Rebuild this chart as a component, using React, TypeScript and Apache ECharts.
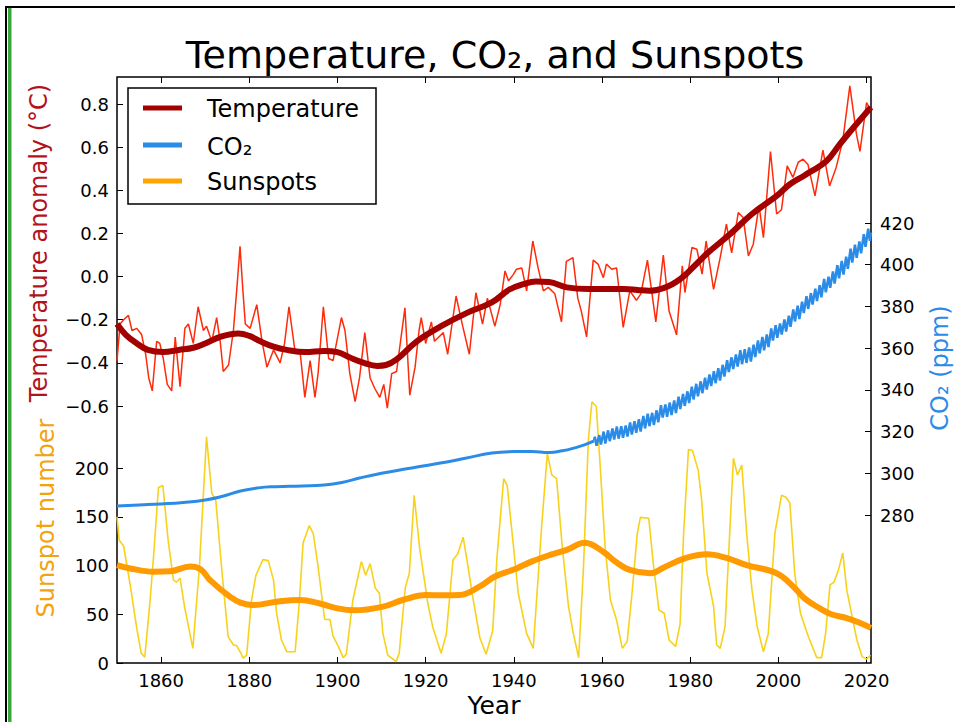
import React, { useEffect, useRef } from 'react';
import * as echarts from 'echarts';

const FONT = '"DejaVu Sans", "Liberation Sans", sans-serif';

const yearTicks = [1860, 1880, 1900, 1920, 1940, 1960, 1980, 2000, 2020];

// Temperature anomaly (thin, noisy) [year, °C]
const tempThin: [number, number][] = [
  [1850.0, -0.39], [1850.7, -0.22], [1851.5, -0.2], [1852.6, -0.18], [1853.4, -0.25], [1854.5, -0.24],
  [1855.6, -0.27], [1856.5, -0.36], [1857.2, -0.47], [1858.0, -0.53], [1859.0, -0.3], [1859.7, -0.31],
  [1860.5, -0.38], [1861.4, -0.5], [1862.4, -0.53], [1863.2, -0.28], [1864.3, -0.51], [1865.4, -0.24],
  [1866.2, -0.22], [1867.3, -0.31], [1868.4, -0.14], [1869.6, -0.25], [1870.3, -0.23], [1871.5, -0.3],
  [1872.6, -0.19], [1873.4, -0.3], [1874.1, -0.44], [1875.3, -0.41], [1876.4, -0.25], [1877.2, -0.05],
  [1877.9, 0.14], [1878.5, -0.05], [1879.1, -0.22], [1880.2, -0.24], [1881.7, -0.13], [1882.9, -0.3],
  [1884.0, -0.42], [1885.5, -0.34], [1887.0, -0.4], [1888.0, -0.31], [1889.0, -0.14], [1890.4, -0.35],
  [1891.5, -0.345], [1892.6, -0.56], [1893.8, -0.39], [1894.9, -0.56], [1895.6, -0.45], [1896.8, -0.14],
  [1898.0, -0.38], [1899.0, -0.39], [1900.9, -0.19], [1901.7, -0.25], [1902.8, -0.45], [1904.0, -0.58],
  [1905.0, -0.47], [1906.2, -0.26], [1907.4, -0.47], [1908.5, -0.52], [1909.6, -0.56], [1910.5, -0.5],
  [1911.3, -0.61], [1912.3, -0.45], [1913.4, -0.44], [1914.3, -0.3], [1915.3, -0.145], [1916.4, -0.55],
  [1917.6, -0.42], [1918.5, -0.25], [1919.0, -0.19], [1920.0, -0.31], [1921.3, -0.21], [1922.0, -0.3],
  [1923.0, -0.28], [1924.0, -0.26], [1925.0, -0.36], [1926.9, -0.09], [1928.4, -0.23], [1929.9, -0.36],
  [1931.4, -0.075], [1932.9, -0.22], [1934.0, -0.1], [1935.7, -0.23], [1936.9, -0.13], [1938.0, 0.026],
  [1938.8, -0.02], [1939.9, 0.01], [1940.6, 0.034], [1941.8, 0.04], [1942.9, -0.066], [1944.3, 0.165],
  [1945.5, 0.04], [1946.7, -0.066], [1947.8, -0.05], [1949.3, -0.08], [1950.8, -0.21], [1951.9, 0.07],
  [1953.4, 0.088], [1954.5, -0.1], [1955.3, -0.16], [1956.5, -0.28], [1958.0, 0.076], [1959.1, 0.058],
  [1960.3, -0.005], [1961.0, 0.058], [1962.2, 0.034], [1963.3, 0.04], [1964.8, -0.236], [1966.3, -0.066],
  [1967.8, -0.11], [1968.8, -0.08], [1970.3, 0.076], [1972.2, -0.21], [1973.9, 0.1], [1975.2, -0.16],
  [1976.9, -0.27], [1978.2, 0.05], [1978.8, -0.074], [1980.4, 0.135], [1981.5, 0.127], [1982.7, 0.011],
  [1983.6, 0.165], [1985.3, -0.059], [1986.8, 0.088], [1988.2, 0.243], [1989.4, 0.11], [1990.9, 0.297],
  [1992.0, 0.274], [1993.2, 0.096], [1994.3, 0.15], [1995.6, 0.33], [1996.6, 0.18], [1998.2, 0.58],
  [1999.6, 0.29], [2000.7, 0.31], [2002.0, 0.513], [2003.3, 0.46], [2004.5, 0.53], [2005.6, 0.544],
  [2006.7, 0.52], [2008.3, 0.374], [2010.1, 0.586], [2011.6, 0.42], [2013.1, 0.506], [2014.6, 0.63],
  [2016.2, 0.884], [2017.7, 0.66], [2018.5, 0.58], [2020.0, 0.807], [2020.9, 0.77],
];

// Temperature, smoothed [year, °C]
const tempSmooth: [number, number][] = [
  [1850, -0.22], [1852, -0.27], [1854.5, -0.31], [1857, -0.34], [1860.5, -0.35], [1864, -0.34],
  [1867.3, -0.33], [1870, -0.31], [1873.4, -0.28], [1877.5, -0.264], [1880, -0.275], [1882.5, -0.3],
  [1885.5, -0.325], [1888.5, -0.34], [1892.7, -0.35], [1897, -0.345], [1900, -0.35], [1902.8, -0.375],
  [1906, -0.4], [1909, -0.414], [1911, -0.41], [1913.5, -0.383], [1918, -0.3], [1923.5, -0.23],
  [1929.5, -0.167], [1935, -0.12], [1939, -0.06], [1942.2, -0.035], [1945, -0.023], [1948, -0.025],
  [1952, -0.05], [1957, -0.058], [1961, -0.058], [1965, -0.058], [1968, -0.062], [1970.6, -0.066],
  [1974.4, -0.05], [1977.7, -0.012], [1980, 0.03], [1984, 0.11], [1989, 0.196], [1994, 0.29],
  [1999.6, 0.374], [2002.6, 0.428], [2006, 0.47], [2010.9, 0.536], [2013.9, 0.613], [2017, 0.69],
  [2021, 0.785],
];

// CO2 before Mauna Loa (ice core) [year, ppm]
const co2IceCore: [number, number][] = [
  [1850, 284.3], [1855, 284.8], [1860, 285.3], [1865, 286.0], [1870, 287.2], [1874, 289.0],
  [1878, 291.5], [1882, 293.0], [1886, 293.6], [1892, 293.9], [1897, 294.4], [1901, 295.6],
  [1905, 297.7], [1910, 300.0], [1915, 301.9], [1923, 304.8], [1929, 307.2], [1935, 309.7], [1940, 310.4],
  [1944, 310.5], [1948, 310.0], [1951, 310.8], [1954, 312.3], [1956, 313.6], [1958.2, 315.5],
];

// CO2 Mauna Loa, seasonal highs and lows [year, ppm]
const co2MaunaLoa: [number, number][] = [
  [1958.2, 315.7], [1958.37, 317.5], [1958.75, 313.2], [1959.37, 318.3], [1959.75, 313.8],
  [1960.37, 320.0], [1960.75, 314.3], [1961.37, 320.6], [1961.75, 315.4], [1962.37, 321.5], [1962.75, 316.2],
  [1963.37, 322.4], [1963.75, 316.6], [1964.37, 322.6], [1964.75, 317.0], [1965.37, 322.9], [1965.75, 317.6],
  [1966.37, 324.4], [1966.75, 318.6], [1967.37, 325.0], [1967.75, 319.4], [1968.37, 325.9], [1968.75, 320.0],
  [1969.37, 327.5], [1969.75, 321.5], [1970.37, 328.6], [1970.75, 322.6], [1971.37, 329.0], [1971.75, 323.2],
  [1972.37, 330.2], [1972.75, 324.4], [1973.37, 332.6], [1973.75, 326.7], [1974.37, 333.0], [1974.75, 327.1],
  [1975.37, 333.9], [1975.75, 327.9], [1976.37, 334.9], [1976.75, 328.9], [1977.37, 336.7], [1977.75, 330.8],
  [1978.37, 338.0], [1978.75, 332.3], [1979.37, 339.3], [1979.75, 333.7], [1980.37, 341.5], [1980.75, 335.4],
  [1981.37, 342.9], [1981.75, 336.9], [1982.37, 344.1], [1982.75, 338.4], [1983.37, 345.8], [1983.75, 340.1],
  [1984.37, 347.4], [1984.75, 341.8], [1985.37, 348.9], [1985.75, 343.2], [1986.37, 350.4], [1986.75, 344.5],
  [1987.37, 352.0], [1987.75, 346.4], [1988.37, 354.2], [1988.75, 348.5], [1989.37, 355.6], [1989.75, 350.0],
  [1990.37, 357.0], [1990.75, 351.2], [1991.37, 359.0], [1991.75, 352.3], [1992.37, 359.5], [1992.75, 352.9],
  [1993.37, 360.3], [1993.75, 353.6], [1994.37, 361.7], [1994.75, 355.7], [1995.37, 363.7], [1995.75, 357.5],
  [1996.37, 365.4], [1996.75, 359.0], [1997.37, 366.6], [1997.75, 360.5], [1998.37, 369.5], [1998.75, 363.6],
  [1999.37, 371.0], [1999.75, 365.0], [2000.37, 371.8], [2000.75, 366.5], [2001.37, 373.8], [2001.75, 368.0],
  [2002.37, 375.6], [2002.75, 370.2], [2003.37, 378.6], [2003.75, 372.8], [2004.37, 380.4], [2004.75, 373.9],
  [2005.37, 382.3], [2005.75, 376.8], [2006.37, 384.9], [2006.75, 378.8], [2007.37, 386.4], [2007.75, 380.9],
  [2008.37, 388.5], [2008.75, 382.6], [2009.37, 390.2], [2009.75, 384.4], [2010.37, 393.2], [2010.75, 386.8],
  [2011.37, 394.3], [2011.75, 388.9], [2012.37, 396.8], [2012.75, 391.0], [2013.37, 399.8], [2013.75, 393.5],
  [2014.37, 401.8], [2014.75, 395.3], [2015.37, 403.9], [2015.75, 398.0], [2016.37, 407.7], [2016.75, 401.0],
  [2017.37, 409.6], [2017.75, 403.3], [2018.37, 411.2], [2018.75, 405.5], [2019.37, 414.7], [2019.75, 408.6],
  [2020.37, 417.3], [2020.75, 411.5], [2021.0, 415.5],
];

// Sunspot number (thin) [year, count]
const sunThin: [number, number][] = [
  [1850.0, 150], [1850.5, 126], [1851.5, 120], [1853.0, 80], [1854.5, 35], [1855.5, 10], [1856.3, 6],
  [1857.5, 64], [1858.3, 110], [1859.4, 180], [1860.4, 182], [1861.6, 126], [1862.8, 85], [1863.5, 83],
  [1864.3, 87], [1865.3, 58], [1867.2, 15], [1868.7, 99], [1870.3, 232], [1871.5, 174], [1872.4, 167],
  [1873.7, 99], [1875.2, 27], [1876.4, 18.5], [1877.1, 18], [1878.1, 10], [1878.6, 5], [1879.4, 8],
  [1880.5, 64], [1881.5, 90], [1883.1, 106], [1884.3, 105], [1885.5, 85], [1886.2, 51], [1887.3, 23.6],
  [1888.5, 11.6], [1890.4, 11.6], [1891.3, 60], [1892.2, 123], [1893.6, 141], [1894.5, 133], [1895.6, 99],
  [1897.1, 44.6], [1898.3, 44.6], [1899.0, 27.6], [1900.2, 17], [1901.3, 5.5], [1902.0, 9], [1903.5, 64.6],
  [1905.4, 104], [1906.4, 90], [1907.4, 102], [1908.6, 76.6], [1909.5, 71.5], [1910.3, 30.4], [1911.4, 8.2],
  [1913.3, 1.4], [1914.0, 10], [1915.4, 78], [1916.3, 92], [1917.4, 172], [1918.6, 119], [1920.5, 61],
  [1921.6, 37], [1923.5, 10], [1924.7, 30], [1926.2, 105.6], [1927.3, 112], [1928.5, 129], [1929.6, 99],
  [1930.8, 64.6], [1932.3, 25.9], [1933.7, 9], [1935.2, 33], [1936.2, 110], [1937.7, 189], [1938.5, 182],
  [1941.0, 71.5], [1942.9, 30.4], [1944.4, 15], [1946.3, 140], [1947.6, 215], [1948.6, 193], [1949.7, 189],
  [1950.9, 123], [1952.4, 57.8], [1953.5, 30], [1954.7, 5.5], [1955.8, 99], [1956.9, 228.7], [1957.7, 268],
  [1958.7, 263], [1959.6, 201], [1960.7, 119], [1961.9, 64.6], [1963.3, 44], [1964.6, 15], [1965.7, 22],
  [1966.8, 71.5], [1968.0, 133], [1968.7, 149.4], [1970.6, 148.4], [1971.7, 99], [1972.9, 54.4], [1974.1, 51],
  [1975.2, 23.6], [1976.7, 17], [1977.7, 40], [1978.5, 133], [1979.6, 219], [1980.5, 218], [1981.8, 198],
  [1982.6, 167], [1983.8, 92], [1985.3, 58], [1986.0, 18.5], [1986.8, 15], [1987.9, 37], [1989.8, 210],
  [1990.7, 193], [1991.7, 203], [1992.8, 133], [1994.0, 75], [1995.2, 37], [1996.6, 11.6], [1997.7, 30],
  [1999.2, 133], [2000.7, 172], [2001.7, 170], [2002.6, 164], [2003.7, 92], [2005.0, 51], [2006.8, 27],
  [2008.7, 5.5], [2009.8, 5.5], [2010.7, 30], [2011.7, 80], [2012.6, 83], [2013.6, 95], [2014.6, 113],
  [2015.5, 75], [2016.7, 48], [2017.8, 23.6], [2019.0, 6.5], [2020.0, 4], [2020.9, 8],
];

// Sunspot number, smoothed [year, count]
const sunSmooth: [number, number][] = [
  [1850, 100.5], [1853, 97], [1858.3, 93.6], [1862, 94], [1866.6, 99], [1869, 96], [1871.1, 85],
  [1875.6, 68], [1878, 62], [1880.9, 59.5], [1886.2, 62.9], [1891.5, 64.6], [1896, 61], [1900, 56],
  [1903.9, 54], [1910.3, 57.8], [1914.8, 64.6], [1920.1, 69.7], [1924, 69.5], [1927.7, 69.7],
  [1932.2, 78.3], [1935.6, 88.5], [1940.6, 97], [1944, 104], [1948.2, 110.8], [1952, 116], [1956.1, 123.4],
  [1960.3, 114], [1963, 104], [1966.3, 95.5], [1971, 92], [1974, 98], [1978.9, 107.5], [1983.8, 111.5],
  [1988, 108], [1992.8, 100.5], [1999.6, 92], [2003.4, 78.3], [2006, 66], [2009.4, 56], [2012, 50],
  [2015.5, 46], [2018, 42], [2021, 36],
];

const C_TEMP_THIN = '#ff2a0a';
const C_TEMP = '#a30000';
const C_CO2 = '#2b8ce8';
const C_SUN_THIN = '#f7d21c';
const C_SUN = '#ff9a00';

const PLOT_L = 117;
const PLOT_R = 871;
const PLOT_T = 77;
const PLOT_B = 663;
const W = 955;
const H = 722;

export default function App() {
  const ref = useRef<HTMLDivElement>(null);

  useEffect(() => {
    if (!ref.current) return;
    const chart = echarts.init(ref.current, undefined, { renderer: 'svg' });

    const tick = { inside: true, length: 6, lineStyle: { color: '#000', width: 1 } };
    const lbl = { fontSize: 18, color: '#000', fontFamily: FONT };
    const xBase = { type: 'value', min: 1850, max: 2021, splitLine: { show: false } };

    const fmtTemp = (v: number) => {
      const s = Math.abs(v) < 1e-9 ? '0.0' : v.toFixed(1);
      return s.replace('-', '\u2212');
    };

    const option: any = {
      animation: false,
      textStyle: { fontFamily: FONT },
      grid: [
        { left: PLOT_L, right: W - PLOT_R, top: PLOT_T, bottom: H - PLOT_B, show: true, borderColor: '#000', borderWidth: 1.5, backgroundColor: 'transparent' },
        { left: PLOT_L, right: W - PLOT_R, top: 104, bottom: H - 406 },
        { left: PLOT_L, right: W - PLOT_R, top: 468, bottom: H - PLOT_B },
        { left: PLOT_L, right: W - PLOT_R, top: 223, bottom: H - 515 },
      ],
      xAxis: [
        {
          ...xBase, gridIndex: 0, position: 'bottom',
          axisLine: { show: false },
          axisTick: { ...tick, customValues: yearTicks },
          axisLabel: { ...lbl, customValues: yearTicks, margin: 8, formatter: (v: number) => String(Math.round(v)) },
        },
        {
          ...xBase, gridIndex: 0, position: 'top',
          axisLine: { show: false },
          axisTick: { ...tick, customValues: yearTicks },
          axisLabel: { show: false },
        },
        { ...xBase, gridIndex: 1, show: false },
        { ...xBase, gridIndex: 2, show: false },
        { ...xBase, gridIndex: 3, show: false },
      ],
      yAxis: [
        { type: 'value', gridIndex: 0, min: 0, max: 1, show: false, splitLine: { show: false } },
        {
          type: 'value', gridIndex: 1, min: -0.6, max: 0.8, interval: 0.2, position: 'left',
          axisLine: { show: false }, splitLine: { show: false }, axisTick: tick,
          axisLabel: { ...lbl, margin: 8, formatter: fmtTemp },
        },
        {
          type: 'value', gridIndex: 2, min: 0, max: 200, interval: 50, position: 'left',
          axisLine: { show: false }, splitLine: { show: false }, axisTick: tick,
          axisLabel: { ...lbl, margin: 8 },
        },
        {
          type: 'value', gridIndex: 3, min: 280, max: 420, interval: 20, position: 'right',
          axisLine: { show: false }, splitLine: { show: false }, axisTick: tick,
          axisLabel: { ...lbl, margin: 9 },
        },
      ],
      series: [
        {
          name: 'Temperature (annual)', type: 'line', xAxisIndex: 2, yAxisIndex: 1, data: tempThin,
          showSymbol: false, symbol: 'none', clip: false, z: 2,
          lineStyle: { color: C_TEMP_THIN, width: 1.5 },
        },
        {
          name: 'Temperature', type: 'line', xAxisIndex: 2, yAxisIndex: 1, data: tempSmooth,
          showSymbol: false, symbol: 'none', clip: false, smooth: 0.4, z: 3,
          lineStyle: { color: C_TEMP, width: 6 },
        },
        {
          name: 'Sunspots (annual)', type: 'line', xAxisIndex: 3, yAxisIndex: 2, data: sunThin,
          showSymbol: false, symbol: 'none', clip: false, z: 2,
          lineStyle: { color: C_SUN_THIN, width: 1.6 },
        },
        {
          name: 'Sunspots', type: 'line', xAxisIndex: 3, yAxisIndex: 2, data: sunSmooth,
          showSymbol: false, symbol: 'none', clip: false, smooth: 0.4, z: 3,
          lineStyle: { color: C_SUN, width: 6 },
        },
        {
          name: 'CO₂', type: 'line', xAxisIndex: 4, yAxisIndex: 3, data: co2IceCore,
          showSymbol: false, symbol: 'none', clip: false, smooth: 0.5, z: 4,
          lineStyle: { color: C_CO2, width: 3 },
        },
        {
          name: 'CO₂ (Mauna Loa)', type: 'line', xAxisIndex: 4, yAxisIndex: 3, data: co2MaunaLoa,
          showSymbol: false, symbol: 'none', clip: false, z: 4,
          lineStyle: { color: C_CO2, width: 2.5 },
        },
      ],
      graphic: [
        // outer frame
        { type: 'line', shape: { x1: 5, y1: 7, x2: W, y2: 7 }, style: { stroke: '#000', lineWidth: 2 }, silent: true },
        { type: 'line', shape: { x1: 6, y1: 6, x2: 6, y2: H }, style: { stroke: '#000', lineWidth: 2 }, silent: true },
        { type: 'rect', shape: { x: 8, y: 8, width: 3.5, height: H - 8 }, style: { fill: '#3aa83a' }, silent: true },
        // title
        {
          type: 'text', x: 495, y: 55, silent: true,
          style: { text: 'Temperature, CO₂, and Sunspots', fontSize: 38, fontFamily: FONT, fill: '#000', align: 'center', verticalAlign: 'middle' },
        },
        // axis names
        {
          type: 'text', x: 39, y: 243, rotation: Math.PI / 2, silent: true,
          style: { text: 'Temperature anomaly (°C)', fontSize: 24, fontFamily: FONT, fill: '#b3121a', align: 'center', verticalAlign: 'middle' },
        },
        {
          type: 'text', x: 46, y: 518, rotation: Math.PI / 2, silent: true,
          style: { text: 'Sunspot number', fontSize: 24, fontFamily: FONT, fill: '#f2a30f', align: 'center', verticalAlign: 'middle' },
        },
        {
          type: 'text', x: 940, y: 368, rotation: Math.PI / 2, silent: true,
          style: { text: 'CO₂ (ppm)', fontSize: 24, fontFamily: FONT, fill: C_CO2, align: 'center', verticalAlign: 'middle' },
        },
        {
          type: 'text', x: 494, y: 705, silent: true,
          style: { text: 'Year', fontSize: 25, fontFamily: FONT, fill: '#000', align: 'center', verticalAlign: 'middle' },
        },
        // legend
        {
          type: 'rect', shape: { x: 128, y: 88, width: 248, height: 116 }, z: 10, silent: true,
          style: { fill: '#fff', stroke: '#000', lineWidth: 1.5 },
        },
        { type: 'line', z: 11, shape: { x1: 143, y1: 108, x2: 182, y2: 108 }, style: { stroke: C_TEMP, lineWidth: 5 }, silent: true },
        { type: 'line', z: 11, shape: { x1: 143, y1: 145, x2: 182, y2: 145 }, style: { stroke: C_CO2, lineWidth: 5 }, silent: true },
        { type: 'line', z: 11, shape: { x1: 143, y1: 181, x2: 182, y2: 181 }, style: { stroke: '#ffa500', lineWidth: 5 }, silent: true },
        {
          type: 'text', z: 11, x: 207, y: 109, silent: true,
          style: { text: 'Temperature', fontSize: 24, fontFamily: FONT, fill: '#000', align: 'left', verticalAlign: 'middle' },
        },
        {
          type: 'text', z: 11, x: 207, y: 147, silent: true,
          style: { text: 'CO₂', fontSize: 24, fontFamily: FONT, fill: '#000', align: 'left', verticalAlign: 'middle' },
        },
        {
          type: 'text', z: 11, x: 207, y: 182, silent: true,
          style: { text: 'Sunspots', fontSize: 24, fontFamily: FONT, fill: '#000', align: 'left', verticalAlign: 'middle' },
        },
      ],
    };

    chart.setOption(option);
    return () => chart.dispose();
  }, []);

  return <div ref={ref} style={{ position: 'absolute', left: 0, top: 0, width: W, height: H, background: '#fff' }} />;
}
